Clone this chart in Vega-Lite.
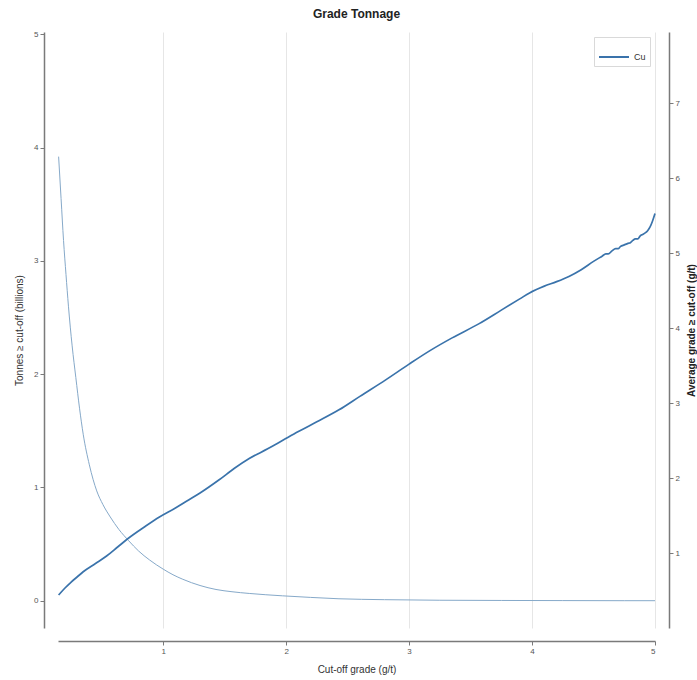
{
  "$schema": "https://vega.github.io/schema/vega-lite/v6.json",
  "width": 597,
  "height": 596,
  "autosize": "none",
  "padding": {"left": 58, "top": 32, "right": 42, "bottom": 52},
  "title": {"text": "Grade Tonnage", "fontSize": 12, "fontWeight": "bold", "color": "#222222", "offset": 9, "anchor": "middle"},
  "config": {
    "view": {"stroke": null},
    "font": "Liberation Sans",
    "axis": {
      "domainColor": "#7a7a7a",
      "domainWidth": 1.5,
      "tickColor": "#7a7a7a",
      "tickSize": 4,
      "labelFontSize": 8,
      "labelColor": "#555555",
      "titleColor": "#333333",
      "titleFontSize": 10,
      "titleFontWeight": "normal"
    }
  },
  "datasets": {
    "tonnage": [
      {"cutoff": 0.15, "tonnage": 3.92},
      {"cutoff": 0.17, "tonnage": 3.55},
      {"cutoff": 0.19, "tonnage": 3.18},
      {"cutoff": 0.21, "tonnage": 2.88},
      {"cutoff": 0.23, "tonnage": 2.6},
      {"cutoff": 0.26, "tonnage": 2.25},
      {"cutoff": 0.29, "tonnage": 1.97},
      {"cutoff": 0.32, "tonnage": 1.7},
      {"cutoff": 0.35, "tonnage": 1.47},
      {"cutoff": 0.4, "tonnage": 1.2},
      {"cutoff": 0.46, "tonnage": 0.97},
      {"cutoff": 0.51, "tonnage": 0.85},
      {"cutoff": 0.57, "tonnage": 0.74},
      {"cutoff": 0.64, "tonnage": 0.63},
      {"cutoff": 0.72, "tonnage": 0.53},
      {"cutoff": 0.8, "tonnage": 0.44},
      {"cutoff": 0.89, "tonnage": 0.36},
      {"cutoff": 1.0, "tonnage": 0.28},
      {"cutoff": 1.08, "tonnage": 0.23},
      {"cutoff": 1.16, "tonnage": 0.19},
      {"cutoff": 1.3, "tonnage": 0.135},
      {"cutoff": 1.43, "tonnage": 0.1},
      {"cutoff": 1.56, "tonnage": 0.08},
      {"cutoff": 1.7, "tonnage": 0.065},
      {"cutoff": 1.97, "tonnage": 0.044},
      {"cutoff": 2.2, "tonnage": 0.03},
      {"cutoff": 2.43, "tonnage": 0.018},
      {"cutoff": 2.8, "tonnage": 0.01},
      {"cutoff": 3.25, "tonnage": 0.005},
      {"cutoff": 3.75, "tonnage": 0.003},
      {"cutoff": 4.25, "tonnage": 0.002},
      {"cutoff": 4.75, "tonnage": 0.001},
      {"cutoff": 5.0, "tonnage": 0.001}
    ],
    "grade": [
      {"cutoff": 0.15, "grade": 0.44},
      {"cutoff": 0.2, "grade": 0.53},
      {"cutoff": 0.25, "grade": 0.61},
      {"cutoff": 0.3, "grade": 0.68},
      {"cutoff": 0.35, "grade": 0.75},
      {"cutoff": 0.45, "grade": 0.86},
      {"cutoff": 0.54, "grade": 0.96},
      {"cutoff": 0.63, "grade": 1.08},
      {"cutoff": 0.72, "grade": 1.2},
      {"cutoff": 0.85, "grade": 1.35},
      {"cutoff": 0.97, "grade": 1.48},
      {"cutoff": 1.1, "grade": 1.6},
      {"cutoff": 1.2, "grade": 1.7},
      {"cutoff": 1.3, "grade": 1.8},
      {"cutoff": 1.45, "grade": 1.97},
      {"cutoff": 1.58, "grade": 2.13},
      {"cutoff": 1.7, "grade": 2.26},
      {"cutoff": 1.85, "grade": 2.39},
      {"cutoff": 1.98, "grade": 2.51},
      {"cutoff": 2.1, "grade": 2.62},
      {"cutoff": 2.25, "grade": 2.75},
      {"cutoff": 2.43, "grade": 2.91},
      {"cutoff": 2.6, "grade": 3.09},
      {"cutoff": 2.81, "grade": 3.31},
      {"cutoff": 3.0, "grade": 3.52},
      {"cutoff": 3.17, "grade": 3.7},
      {"cutoff": 3.35, "grade": 3.87},
      {"cutoff": 3.57, "grade": 4.06},
      {"cutoff": 3.75, "grade": 4.24},
      {"cutoff": 3.9, "grade": 4.39},
      {"cutoff": 3.98, "grade": 4.47},
      {"cutoff": 4.1, "grade": 4.56},
      {"cutoff": 4.2, "grade": 4.62},
      {"cutoff": 4.3, "grade": 4.69},
      {"cutoff": 4.4, "grade": 4.78},
      {"cutoff": 4.5, "grade": 4.89},
      {"cutoff": 4.57, "grade": 4.96},
      {"cutoff": 4.6, "grade": 4.99},
      {"cutoff": 4.62, "grade": 4.99},
      {"cutoff": 4.65, "grade": 5.03},
      {"cutoff": 4.68, "grade": 5.06},
      {"cutoff": 4.7, "grade": 5.06},
      {"cutoff": 4.72, "grade": 5.09},
      {"cutoff": 4.75, "grade": 5.11},
      {"cutoff": 4.78, "grade": 5.13},
      {"cutoff": 4.8, "grade": 5.14},
      {"cutoff": 4.82, "grade": 5.17},
      {"cutoff": 4.84, "grade": 5.19},
      {"cutoff": 4.86, "grade": 5.19},
      {"cutoff": 4.88, "grade": 5.23},
      {"cutoff": 4.9, "grade": 5.25},
      {"cutoff": 4.92, "grade": 5.27},
      {"cutoff": 4.94, "grade": 5.3},
      {"cutoff": 4.96, "grade": 5.35},
      {"cutoff": 4.98, "grade": 5.43},
      {"cutoff": 5.0, "grade": 5.53}
    ]
  },
  "layer": [
    {
      "data": {"name": "tonnage"},
      "mark": {"type": "line", "strokeWidth": 1, "color": "#86a9c9", "interpolate": "monotone"},
      "encoding": {
        "x": {
          "field": "cutoff", "type": "quantitative",
          "scale": {"domain": [0.145, 5], "nice": false, "zero": false},
          "axis": {"orient": "bottom", "offset": 13, "values": [1, 2, 3, 4, 5], "format": "d", "grid": true, "gridColor": "#e6e6e6", "gridWidth": 1, "title": "Cut-off grade (g/t)", "titlePadding": 9}
        },
        "y": {
          "field": "tonnage", "type": "quantitative",
          "scale": {"domain": [-0.24, 5.02], "nice": false, "zero": false},
          "axis": {"orient": "left", "offset": 14, "values": [0, 1, 2, 3, 4, 5], "format": "d", "grid": false, "title": "Tonnes ≥ cut-off (billions)", "titlePadding": 9}
        }
      }
    },
    {
      "data": {"name": "grade"},
      "mark": {"type": "line", "strokeWidth": 1.7, "interpolate": "monotone"},
      "encoding": {
        "x": {"field": "cutoff", "type": "quantitative", "scale": {"domain": [0.145, 5], "nice": false, "zero": false}},
        "y": {
          "field": "grade", "type": "quantitative",
          "scale": {"domain": [0, 7.95], "nice": false, "zero": false},
          "axis": {"orient": "right", "offset": 14, "values": [1, 2, 3, 4, 5, 6, 7], "format": "d", "grid": false, "title": "Average grade ≥ cut-off (g/t)", "titleFontWeight": "bold", "titleColor": "#222222", "titleAngle": -90, "titlePadding": 17}
        },
        "color": {
          "datum": "Cu",
          "scale": {"domain": ["Cu"], "range": ["#3a73ab"]},
          "legend": {"orient": "top-right", "offset": 5, "title": null, "symbolType": "stroke", "symbolStrokeWidth": 2, "symbolSize": 900, "labelFontSize": 9, "labelColor": "#333333", "strokeColor": "#d9d9d9", "padding": 4, "fillColor": "#ffffff"}
        }
      }
    }
  ],
  "resolve": {"scale": {"y": "independent"}}
}
